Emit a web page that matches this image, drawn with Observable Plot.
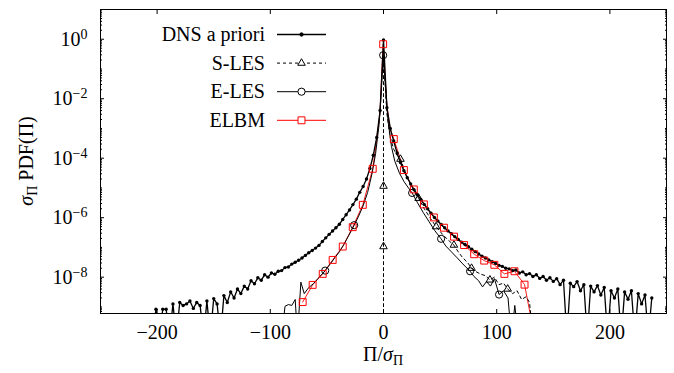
<!DOCTYPE html>
<html><head><meta charset="utf-8">
<script src="https://cdn.jsdelivr.net/npm/d3@7"></script>
<script src="https://cdn.jsdelivr.net/npm/@observablehq/plot@0.6"></script>
<style>html,body{margin:0;padding:0;background:#fff}#chart svg{display:block}</style>
</head><body><div id="chart"></div>
<script>
(function () {
// [Pi/sigma, sigma*PDF]  (values below the axis bottom = empty bins)
const dns = [
 [-204,1e-10],[-201,8.3e-10],[-198,1e-10],[-195,8.3e-10],[-192,8.3e-10],[-189,1e-10],[-186,1.26e-9],[-183,1e-10],
 [-180,1.4e-9],[-177,1.12e-9],[-174,1.26e-9],[-171,1.58e-9],[-168,8.9e-10],[-165,1.41e-9],[-162,1.12e-9],[-159,1e-10],
 [-156,1.58e-9],[-153,1e-10],[-150,1.9e-9],[-147,1.26e-9],[-144,1e-10],[-141,2.4e-9],[-138,1.41e-9],[-135,3.2e-9],
 [-132,2.0e-9],[-129,4.0e-9],[-126,2.8e-9],[-123,5.0e-9],[-120,4.0e-9],[-117,7.6e-9],[-114,6.0e-9],[-111,9.5e-9],
 [-108,7.9e-9],[-105,1.2e-8],[-102,1.0e-8],[-99,1.38e-8],[-96,1.26e-8],[-93,1.58e-8],[-90,1.66e-8],[-87,2.1e-8],
 [-84,2.2e-8],[-81,2.75e-8],[-78,3.16e-8],[-75,3.7e-8],[-72,4.4e-8],[-69,5.4e-8],[-66,6.6e-8],[-63,7.9e-8],
 [-60,9.5e-8],[-57,1.17e-7],[-54,1.58e-7],[-51,2.1e-7],[-48,2.75e-7],[-45,3.55e-7],[-42,4.6e-7],[-39,6.0e-7],
 [-36,8.7e-7],[-33,1.26e-6],[-30,1.82e-6],[-27,2.75e-6],[-24,4.2e-6],[-21,7.1e-6],[-18,1.12e-5],[-15,2.0e-5],
 [-12,4.5e-5],[-9,1.26e-4],[-6,5.0e-4],[-3,4.0e-3],[0,0.95],
 [3,5.0e-3],[6,1.0e-3],[9,3.8e-4],[12,1.5e-4],[15,7.1e-5],[18,3.8e-5],[21,2.2e-5],[24,1.35e-5],
 [27,8.7e-6],[30,5.9e-6],[33,4.1e-6],[36,2.8e-6],[39,2.0e-6],[42,1.41e-6],[45,1.02e-6],[48,7.8e-7],
 [51,5.9e-7],[54,4.6e-7],[57,3.6e-7],[60,2.9e-7],[63,2.3e-7],[66,1.86e-7],[69,1.51e-7],[72,1.26e-7],
 [75,1.05e-7],[78,8.7e-8],[81,7.2e-8],[84,6.0e-8],[87,5.1e-8],[90,4.4e-8],[93,3.8e-8],[96,3.3e-8],
 [99,2.9e-8],[102,2.5e-8],[105,2.3e-8],[108,2.0e-8],[111,1.9e-8],[114,1.66e-8],[117,1.74e-8],[120,1.38e-8],
 [123,1.51e-8],[126,1.2e-8],[129,1.32e-8],[132,1.05e-8],[135,1.2e-8],[138,9.1e-9],[141,1.05e-8],[144,7.9e-9],
 [147,9.5e-9],[150,7.2e-9],[153,8.9e-9],[156,5.6e-9],[159,7.9e-9],[162,1e-10],[165,6.3e-9],[168,4.8e-9],
 [171,7.1e-9],[174,3.5e-9],[177,5.6e-9],[180,1e-10],[183,5.0e-9],[186,3.2e-9],[189,5.2e-9],[192,2.5e-9],
 [195,4.5e-9],[198,1e-10],[201,3.5e-9],[204,2.0e-9],[207,4.0e-9],[210,1e-10],[213,3.2e-9],[216,1.8e-9],
 [219,3.5e-9],[222,1e-10],[225,2.8e-9],[228,1.26e-9],[231,2.5e-9],[234,1e-10],[237,2.0e-9]
];
// [x, y, marker]
const sles = [
 [0,1e-10,0],[0,1.07e-7,1],[0,1.15e-5,1],[0,0.25,0],[3,3.2e-3,0],[6,5.0e-4,0],[9,2.0e-4,0],[12,1.26e-4,0],
 [15,9.3e-5,1],[20,2.8e-5,0],[25,1.12e-5,0],[31,4.5e-6,1],[36,2.0e-6,0],[41,1.0e-6,0],[46.5,5.0e-7,1],
 [52,2.8e-7,0],[57,1.78e-7,0],[62.2,1.2e-7,1],[66,7.1e-8,0],[70,4.5e-8,0],[74,3.2e-8,0],[77.8,2.0e-8,1],
 [82,1.51e-8,0],[86,1.26e-8,0],[90,1.12e-8,0],[94,8.1e-9,1],[98,1.0e-8,0],[102,5.6e-9,0],[106,6.3e-9,0],
 [109.7,4.0e-9,1],[114,2.8e-9,0],[118,3.5e-9,0],[122,1.78e-9,0],[126,2.2e-9,0],[129,1.41e-9,0],[132,1e-10,0]
];
const eles = [
 [-90,1e-10,0],[-87,1.05e-9,0],[-84,1.2e-9,0],[-81,1.12e-9,0],[-78,1.78e-9,0],[-76,1e-10,0],[-73,6.8e-9,0],
 [-70,2.8e-9,0],[-66,4.5e-9,0],[-62,6.0e-9,0],[-58,8.9e-9,0],[-51.5,1.66e-8,1],[-47,2.8e-8,0],[-43,4.5e-8,0],
 [-39,7.1e-8,0],[-35,1.26e-7,0],[-31,2.4e-7,0],[-25.9,5.6e-7,1],[-22,1.12e-6,0],[-18,2.5e-6,0],[-14,7.1e-6,0],
 [-10,3.2e-5,0],[-7,1.41e-4,0],[-4,1.26e-3,0],[-2,1.58e-2,0],[-0.3,0.29,1],[2,2.0e-2,0],[4,1.8e-3,0],
 [7,2.5e-4,0],[10,7.9e-5,0],[14,3.2e-5,0],[18,1.66e-5,0],[21.5,1.07e-5,0],[25.3,6.8e-6,1],[30,3.2e-6,0],
 [35,1.51e-6,0],[40,7.6e-7,0],[45,3.8e-7,0],[50.9,1.95e-7,1],[55,1.12e-7,0],[60,7.1e-8,0],[65,4.5e-8,0],
 [70,2.8e-8,0],[76.5,1.58e-8,1],[80,1.05e-8,0],[84,7.6e-9,0],[87.5,4.7e-9,0],[91,7.1e-9,0],[94.5,5.0e-9,0],
 [98,8.9e-9,0],[102.1,2.6e-9,1],[106,3.5e-9,0],[110,2.0e-9,0],[113,1e-10,0],[116,1.12e-9,0],[119,1e-10,0]
];
// ELBM: marked points
const elbm = [
 [-71.4,1.45e-9],[-62.6,5.5e-9],[-53.7,1.29e-8],[-44.9,3.8e-8],[-36.0,1.07e-7],[-27.2,4.8e-7],[-18.3,2.7e-6],
 [-9.5,4.4e-5],[-0.3,0.68],[9.1,4.4e-4],[18.0,4.0e-5],[26.8,8.9e-6],[35.7,2.8e-6],[44.5,1.02e-6],[53.4,4.6e-7],
 [62.3,2.3e-7],[71.2,1.2e-7],[80.1,5.9e-8],[89.0,3.6e-8],[97.9,2.6e-8],[106.8,1.29e-8],[115.7,1.58e-8],
 [124.6,5.6e-9]
];
// ELBM: unmarked points of the line
const elbmExtra = [[-6.3,3.5e-4],[-3.2,3.0e-3],[3.0,6.0e-3],[6.0,9.0e-4],[133.5,1e-10]];
const seriesNames = ["DNS a priori", "S-LES", "E-LES", "ELBM"];
const xTicks = [-200, -100, 0, 100, 200];
const yMajor = [1e-8, 1e-6, 1e-4, 1e-2, 1];
const yDomain = [6e-10, 10];
const xDomain = [-250, 250];

const yMinor = [];
for (let k = -10; k <= 0; k++) for (let m = 1; m <= 9; m++) {
  const v = m * Math.pow(10, k);
  if (v >= yDomain[0] && v <= yDomain[1] && !(m === 1 && k % 2 === 0)) yMinor.push(v);
}
const P = arr => arr.map(([x, y, m]) => ({x, y, m: !!m}));
const dnsD = P(dns), slesD = P(sles), elesD = P(eles), elbmD = P(elbm);
const elbmLine = P(elbm.concat(elbmExtra)).sort((a, b) => a.x - b.x);
const fmtX = d => d < 0 ? "\u2212" + Math.abs(d) : String(d);
const fmtY = d => { const e = Math.round(Math.log10(d)); return "10^" + (e < 0 ? "\u2212" + (-e) : String(e)); };

const chart = Plot.plot({
  width: 674, height: 373,
  marginLeft: 100, marginRight: 8, marginTop: 9, marginBottom: 60,
  style: {fontFamily: '"Liberation Serif", serif', fontSize: "20px", color: "black", background: "white"},
  x: {domain: xDomain},
  y: {type: "log", domain: yDomain},
  marks: [
    Plot.line(elbmLine, {x: "x", y: "y", stroke: "red", strokeWidth: 0.9, clip: true}),
    Plot.line(dnsD, {x: "x", y: "y", stroke: "black", strokeWidth: 1.3, clip: true}),
    Plot.dot(dnsD, {x: "x", y: "y", r: 1.7, fill: "black", stroke: "none", clip: true}),
    Plot.line(slesD, {x: "x", y: "y", stroke: "black", strokeWidth: 1, strokeDasharray: "3,3", clip: true}),
    Plot.dot(slesD.filter(d => d.m), {x: "x", y: "y", symbol: "triangle", r: 2.8, stroke: "black", fill: "none", strokeWidth: 1, clip: true}),
    Plot.line(elesD, {x: "x", y: "y", stroke: "black", strokeWidth: 1, clip: true}),
    Plot.dot(elesD.filter(d => d.m), {x: "x", y: "y", r: 3.6, stroke: "black", fill: "none", strokeWidth: 1, clip: true}),
    Plot.dot(elbmD, {x: "x", y: "y", symbol: "square", r: 3.9, stroke: "red", fill: "none", strokeWidth: 1, clip: true}),
    Plot.frame({stroke: "black", strokeWidth: 1}),
    Plot.axisX(xTicks, {anchor: "bottom", tickSize: 0, tickPadding: 11, tickFormat: fmtX, label: null}),
    Plot.axisX(xTicks, {anchor: "bottom", tickSize: -4, fill: "none", label: null}),
    Plot.axisX(xTicks, {anchor: "top", tickSize: -4, fill: "none", label: null}),
    Plot.axisY(yMajor, {anchor: "left", tickSize: 0, tickPadding: 13, tickFormat: fmtY, label: null}),
    Plot.axisY(yMajor, {anchor: "left", tickSize: -4, fill: "none", label: null}),
    Plot.axisY(yMajor, {anchor: "right", tickSize: -4, fill: "none", label: null}),
    Plot.axisY(yMinor, {anchor: "left", tickSize: -2, fill: "none", label: null}),
    Plot.axisY(yMinor, {anchor: "right", tickSize: -2, fill: "none", label: null})
  ]
});
document.getElementById("chart").appendChild(chart);

const svg = d3.select(chart);
svg.selectAll('g[aria-label="y-axis tick label"] text').each(function() {
  const parts = this.textContent.split("^");
  const t = d3.select(this); t.text(null);
  t.append("tspan").text(parts[0]);
  t.append("tspan").attr("dy", "-0.5em").attr("font-size", "14px").text(parts[1]);
});

const xs = chart.scale("x"), ys = chart.scale("y");
const fLeft = xs.apply(xDomain[0]), fRight = xs.apply(xDomain[1]);
const fTop = ys.apply(yDomain[1]), fBot = ys.apply(yDomain[0]);
const xl = svg.append("text").attr("x", (fLeft + fRight) / 2).attr("y", fBot + 48).attr("text-anchor", "middle");
xl.append("tspan").text("\u03A0/");
xl.append("tspan").attr("font-style", "italic").text("\u03C3");
xl.append("tspan").attr("font-size", "14px").attr("dy", "0.3em").text("\u03A0");
const yl = svg.append("text").attr("transform", `translate(33,${(fTop + fBot) / 2}) rotate(-90)`).attr("text-anchor", "middle");
yl.append("tspan").attr("font-style", "italic").text("\u03C3");
yl.append("tspan").attr("font-size", "14px").attr("dy", "0.3em").text("\u03A0");
yl.append("tspan").attr("dy", "-0.21em").text(" PDF(\u03A0)");

const lg = svg.append("g");
const styles = [
  {stroke: "black", dash: null, sym: d3.symbolCircle, r: 1.7, fill: "black", w: 1.3},
  {stroke: "black", dash: "3,3", sym: d3.symbolTriangle, r: 2.8, fill: "none", w: 1},
  {stroke: "black", dash: null, sym: d3.symbolCircle, r: 3.6, fill: "none", w: 1},
  {stroke: "red", dash: null, sym: d3.symbolSquare, r: 3.9, fill: "none", w: 1}
];
seriesNames.forEach((name, i) => {
  const y = 34.5 + 28.6 * i, s = styles[i];
  lg.append("text").attr("x", 265).attr("y", y).attr("dy", "0.33em").attr("text-anchor", "end").text(name);
  lg.append("line").attr("x1", 277).attr("x2", 326).attr("y1", y).attr("y2", y)
    .attr("stroke", s.stroke).attr("stroke-width", s.w).attr("stroke-dasharray", s.dash);
  lg.append("path").attr("transform", `translate(301.5,${y})`)
    .attr("d", d3.symbol(s.sym, Math.PI * s.r * s.r)())
    .attr("fill", s.fill === "black" ? "black" : "white").attr("stroke", s.stroke).attr("stroke-width", 1);
});
})();
</script></body></html>
